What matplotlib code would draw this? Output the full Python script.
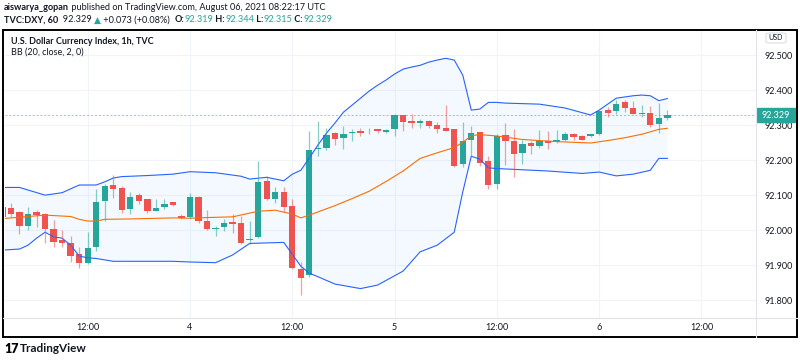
import numpy as np
import matplotlib
matplotlib.use('Agg')
import matplotlib.pyplot as plt
import matplotlib.transforms as mtransforms
from matplotlib.patches import Rectangle, FancyBboxPatch

plt.rcParams['font.family'] = ['Lato', 'DejaVu Sans']

# DXY hourly bars, Aug 3 02:00 -> Aug 6 08:00 UTC
opens = [92.038, 92.064, 92.051, 92.013, 92.051, 92.046, 92.002, 91.973, 91.962, 91.931,
         91.905, 91.951, 92.084, 92.129, 92.119, 92.061, 92.099, 92.088, 92.055, 92.067,
         92.080, 92.041, 92.038, 92.094, 92.026, 92.004, 92.008, 92.022, 92.021, 91.971,
         91.981, 92.140, 92.088, 92.108, 92.069, 91.888, 91.871, 92.232, 92.235, 92.278,
         92.264, 92.277, 92.283, 92.282, 92.288, 92.281, 92.289, 92.329, 92.311, 92.307,
         92.313, 92.300, 92.292, 92.289, 92.188, 92.259, 92.279, 92.198, 92.131, 92.273,
         92.254, 92.221, 92.249, 92.241, 92.254, 92.251, 92.257, 92.276, 92.268, 92.269,
         92.274, 92.343, 92.341, 92.365, 92.348, 92.332, 92.336, 92.303, 92.319]
highs = [92.071, 92.077, 92.054, 92.065, 92.057, 92.049, 92.029, 92.000, 91.983, 91.952,
         91.995, 92.117, 92.133, 92.157, 92.126, 92.108, 92.107, 92.088, 92.088, 92.088,
         92.081, 92.045, 92.105, 92.098, 92.057, 92.011, 92.033, 92.045, 92.041, 92.026,
         92.198, 92.155, 92.124, 92.124, 92.089, 91.908, 92.284, 92.311, 92.293, 92.280,
         92.297, 92.289, 92.292, 92.291, 92.290, 92.289, 92.333, 92.330, 92.333, 92.317,
         92.314, 92.308, 92.357, 92.289, 92.309, 92.297, 92.279, 92.212, 92.276, 92.305,
         92.290, 92.259, 92.255, 92.286, 92.284, 92.286, 92.281, 92.279, 92.271, 92.276,
         92.340, 92.351, 92.371, 92.373, 92.369, 92.357, 92.354, 92.362, 92.344]
lows = [92.034, 92.038, 91.989, 92.000, 92.009, 91.964, 91.952, 91.951, 91.909, 91.893,
        91.903, 91.941, 92.027, 92.091, 92.049, 92.045, 92.076, 92.048, 92.055, 92.061,
        92.070, 92.031, 92.032, 92.021, 92.000, 91.984, 91.998, 91.992, 91.960, 91.960,
        91.978, 92.086, 92.079, 92.053, 91.889, 91.816, 91.866, 92.212, 92.229, 92.244,
        92.233, 92.254, 92.269, 92.275, 92.277, 92.279, 92.269, 92.283, 92.292, 92.291,
        92.291, 92.278, 92.282, 92.180, 92.180, 92.212, 92.184, 92.119, 92.119, 92.186,
        92.152, 92.189, 92.219, 92.236, 92.231, 92.248, 92.255, 92.257, 92.257, 92.265,
        92.271, 92.324, 92.333, 92.338, 92.331, 92.324, 92.295, 92.278, 92.315]
closes = [92.065, 92.047, 92.011, 92.046, 92.042, 92.002, 91.967, 91.964, 91.926, 91.905,
          91.948, 92.079, 92.126, 92.119, 92.057, 92.094, 92.084, 92.055, 92.063, 92.076,
          92.071, 92.036, 92.095, 92.026, 92.002, 92.006, 92.019, 92.018, 91.964, 91.976,
          92.137, 92.089, 92.108, 92.067, 91.891, 91.864, 92.229, 92.234, 92.273, 92.261,
          92.274, 92.279, 92.277, 92.284, 92.283, 92.286, 92.329, 92.308, 92.307, 92.311,
          92.297, 92.289, 92.284, 92.184, 92.254, 92.278, 92.193, 92.129, 92.269, 92.255,
          92.219, 92.246, 92.241, 92.254, 92.248, 92.258, 92.276, 92.265, 92.259, 92.274,
          92.340, 92.335, 92.360, 92.349, 92.333, 92.334, 92.300, 92.320, 92.329]

# Bollinger Bands (20, close, 2, 0), read at selected bars
upper_idx = [0, 2, 5, 7, 9, 11, 12, 13, 14, 17, 20, 22, 25, 28, 29, 31, 33, 34, 35, 36,
             37, 38, 39, 40, 41, 42, 43, 44, 45, 46, 47, 48, 49, 50, 51, 52, 53, 54, 55,
             56, 57, 58, 59, 63, 66, 69, 70, 71, 72, 74, 75, 76, 77, 78]
upper_val = [92.122, 92.122, 92.100, 92.107, 92.129, 92.129, 92.138, 92.149, 92.153, 92.156,
             92.160, 92.167, 92.164, 92.154, 92.146, 92.151, 92.141, 92.160, 92.171, 92.206,
             92.243, 92.277, 92.306, 92.337, 92.357, 92.377, 92.397, 92.414, 92.429, 92.446,
             92.460, 92.466, 92.471, 92.480, 92.486, 92.491, 92.486, 92.443, 92.343,
             92.346, 92.365, 92.365, 92.363, 92.360, 92.349, 92.329, 92.343, 92.360, 92.377,
             92.384, 92.386, 92.384, 92.370, 92.376]
basis_idx = [0, 5, 8, 9, 10, 11, 12, 15, 20, 22, 24, 27, 30, 32, 34, 35, 36, 39, 41, 43,
             45, 47, 49, 51, 53, 54, 55, 56, 58, 61, 65, 69, 71, 73, 75, 77, 78]
basis_val = [92.033, 92.043, 92.039, 92.031, 92.026, 92.026, 92.031, 92.032, 92.035, 92.034,
             92.036, 92.038, 92.054, 92.057, 92.046, 92.035, 92.043, 92.070, 92.090, 92.111,
             92.139, 92.169, 92.205, 92.221, 92.236, 92.251, 92.270, 92.273, 92.269, 92.259,
             92.253, 92.249, 92.256, 92.264, 92.274, 92.288, 92.291]
lower_idx = [0, 2, 3, 4, 5, 6, 7, 8, 9, 10, 11, 13, 20, 22, 25, 27, 29, 33, 34, 35, 36,
             37, 39, 42, 44, 47, 49, 51, 53, 54, 55, 56, 57, 58, 64, 68, 70, 72, 74, 76,
             77, 78]
lower_val = [91.943, 91.946, 91.957, 91.977, 91.994, 91.981, 91.977, 91.957, 91.926, 91.921,
             91.919, 91.911, 91.911, 91.909, 91.907, 91.929, 91.962, 91.965, 91.931, 91.897,
             91.877, 91.867, 91.846, 91.833, 91.843, 91.883, 91.938, 91.957, 91.994, 92.109,
             92.211, 92.203, 92.178, 92.176, 92.169, 92.162, 92.166, 92.155, 92.160, 92.171,
             92.205, 92.205]

price_ticks = [91.8, 91.9, 92.0, 92.1, 92.2, 92.3, 92.4, 92.5]
time_tick_idx = [10, 22, 34, 46, 58, 70, 82]
time_tick_labels = ['12:00', '4', '12:00', '5', '12:00', '6', '12:00']
last_price = 92.329

TEAL = '#26a69a'
RED = '#ef5350'
BLUE = '#2962ff'
ORANGE = '#ff6d00'
TXT = '#131722'
W, H = 800, 362


def fx(px):
    return px / W


def fy(py):
    return 1 - py / H


fig = plt.figure(figsize=(8, 3.62), dpi=100)
fig.patch.set_facecolor('white')

# plot area
ax = fig.add_axes([fx(5), fy(318), fx(756) - fx(5), fy(31) - fy(318)])
ax.set_xlim(0.3, 88.4)
ax.set_ylim(91.749, 92.569)
for s in ax.spines.values():
    s.set_visible(False)
ax.set_axisbelow(True)
ax.grid(True, color='#f0f3fa', lw=0.8)

# bands
ax.fill(np.concatenate([upper_idx, lower_idx[::-1]]),
        np.concatenate([upper_val, lower_val[::-1]]),
        color='#2196f3', alpha=0.05, lw=0)
ax.plot(upper_idx, upper_val, color=BLUE, lw=0.8)
ax.plot(lower_idx, lower_val, color=BLUE, lw=0.8)
ax.plot(basis_idx, basis_val, color=ORANGE, lw=0.8)

# candles
o = np.array(opens)
c = np.array(closes)
x = np.arange(len(o))
cols = np.where(c >= o, TEAL, RED)
ax.vlines(x, lows, highs, colors=cols, lw=0.9, alpha=0.55)
ax.bar(x, np.maximum(np.abs(c - o), 0.002), bottom=np.minimum(o, c),
       width=0.74, color=cols, lw=0)

ax.axhline(last_price, color=TEAL, lw=0.7, ls=(0, (2, 2)), alpha=0.55)

ax.yaxis.tick_right()
ax.set_yticks(price_ticks, ['%.3f' % v for v in price_ticks])
ax.set_xticks(time_tick_idx, time_tick_labels)
ax.tick_params(axis='y', length=0, pad=5.8, labelsize=6.5, labelcolor=TXT)
ax.tick_params(axis='x', length=0, pad=3.5, labelsize=6.5, labelcolor=TXT)

# last price label on the scale
trans = mtransforms.blended_transform_factory(fig.transFigure, ax.transData)
ax.add_patch(Rectangle((fx(757), last_price - 0.0186), fx(795) - fx(757), 0.0372,
                       transform=trans, color=TEAL, clip_on=False, zorder=5))
ax.text(fx(776), last_price, '%.3f' % last_price, transform=trans, ha='center',
        va='center', color='white', fontsize=6.5, zorder=6, clip_on=False)

# chart frame and scale separators
fig.add_artist(plt.Line2D([fx(756), fx(756)], [fy(30), fy(337)], color='#e0e3eb', lw=0.8))
fig.add_artist(plt.Line2D([fx(3), fx(797)], [fy(318), fy(318)], color='#e0e3eb', lw=0.8))
fig.add_artist(Rectangle((fx(3), fy(337)), fx(797) - fx(3), fy(30) - fy(337),
                         fill=False, ec='black', lw=1.4))
fig.add_artist(FancyBboxPatch((fx(766), fy(43)), fx(20), fy(33) - fy(43),
                              boxstyle='round,pad=0,rounding_size=0.004',
                              fc='white', ec='#d1d4dc', lw=0.6))
fig.text(fx(776), fy(38), 'USD', ha='center', va='center', fontsize=5, color=TXT)

fig.text(fx(11), fy(41), 'U.S. Dollar Currency Index, 1h, TVC', fontsize=6.5,
         fontweight='bold', color=TXT, va='center')
fig.text(fx(11), fy(52), 'BB (20, close, 2, 0)', fontsize=6.5, color=TXT, va='center')


def write_pieces(x_px, y_px, pieces, size):
    r = fig.canvas.get_renderer()
    xp = x_px
    for txt, color, weight in pieces:
        t = fig.text(fx(xp), fy(y_px), txt, color=color, fontweight=weight,
                     fontsize=size, va='center', ha='left')
        xp += t.get_window_extent(renderer=r).width


write_pieces(4, 8, [('aiswarya_gopan', TXT, 'bold'),
                    (' published on TradingView.com, August 06, 2021 08:22:17 UTC', TXT, 'normal')], 6.6)
write_pieces(4, 20, [('TVC:DXY, 60', TXT, 'bold'), ('  92.329 ', TXT, 'normal'),
                     ('▲', TEAL, 'normal'), (' +0.073 (+0.08%)  ', TXT, 'normal'),
                     ('O:', TXT, 'bold'), ('92.319', TEAL, 'normal'),
                     (' H:', TXT, 'bold'), ('92.344', TEAL, 'normal'),
                     (' L:', TXT, 'bold'), ('92.315', TEAL, 'normal'),
                     (' C:', TXT, 'bold'), ('92.329', TEAL, 'normal')], 6.6)

# footer logo
fig.text(fx(4), fy(349), '17', fontsize=9, fontweight='heavy', color='black', va='center')
fig.text(fx(20), fy(349), 'TradingView', fontsize=8.5, fontweight='bold', color=TXT, va='center')

fig.savefig('out.png', dpi=100)
